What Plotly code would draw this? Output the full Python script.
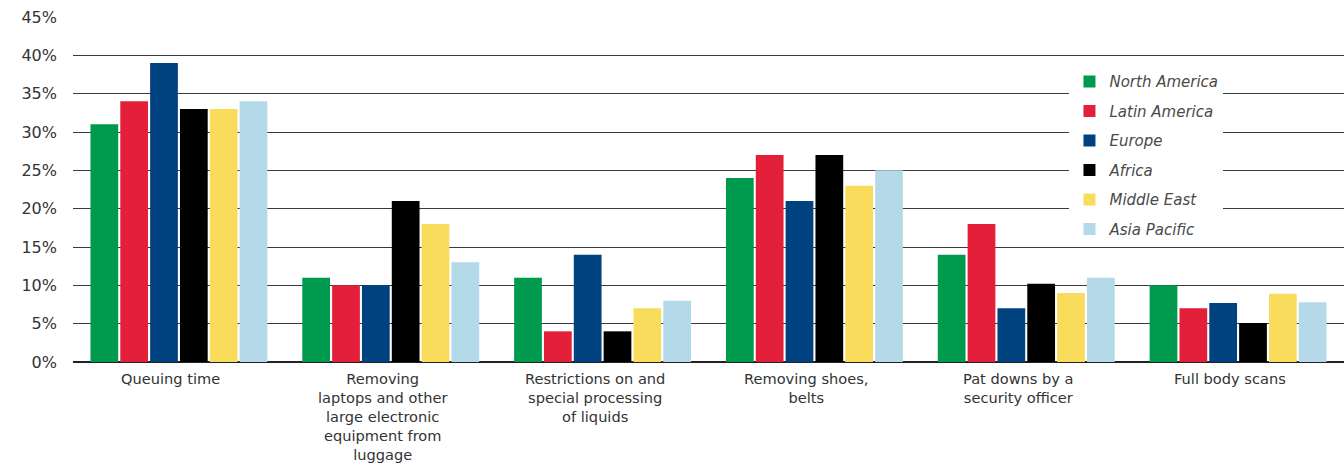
import plotly.graph_objects as go

categories = [
    "Queuing time",
    "Removing<br>laptops and other<br>large electronic<br>equipment from<br>luggage",
    "Restrictions on and<br>special processing<br>of liquids",
    "Removing shoes,<br>belts",
    "Pat downs by a<br>security officer",
    "Full body scans",
]

regions = ["North America", "Latin America", "Europe", "Africa", "Middle East", "Asia Pacific"]
colors = ["#009A4E", "#E31F3A", "#00427F", "#000000", "#F9DC5C", "#B4DAEA"]

north_america = [31, 11, 11, 24, 14, 10]
latin_america = [34, 10, 4, 27, 18, 7]
europe = [39, 10, 14, 21, 7, 7.7]
africa = [33, 21, 4, 27, 10.2, 5.1]
middle_east = [33, 18, 7, 23, 9, 8.9]
asia_pacific = [34, 13, 8, 25, 11, 7.8]

series = [north_america, latin_america, europe, africa, middle_east, asia_pacific]

y_ticks = [0, 5, 10, 15, 20, 25, 30, 35, 40, 45]
y_tick_labels = [f"{v}%" for v in y_ticks]

fig = go.Figure()
for name, color, vals in zip(regions, colors, series):
    fig.add_trace(go.Bar(
        name=name,
        legendgroup=name,
        x=categories,
        y=vals,
        marker=dict(color=color, line=dict(width=0)),
    ))

font_family = "'DejaVu Sans', sans-serif"
text_color = "#333333"

# category labels sit just under the baseline, nudged slightly left of each group
for cat in categories:
    fig.add_annotation(
        x=cat, y=0, xref="x", yref="y",
        text=cat, showarrow=False,
        xanchor="center", yanchor="top", align="center",
        xshift=-8, yshift=-6,
        font=dict(family=font_family, size=14.6, color=text_color),
    )

fig.update_layout(
    width=1344,
    height=463,
    margin=dict(l=73, r=0, t=17, b=101),
    paper_bgcolor="white",
    plot_bgcolor="white",
    barmode="group",
    bargap=0.155,
    bargroupgap=0.07,
    font=dict(family=font_family, size=15, color=text_color),
    showlegend=True,
    legend=dict(
        x=0.784,
        y=0.86,
        xanchor="left",
        yanchor="top",
        bgcolor="white",
        font=dict(size=15, style="italic", color="#4a4a4a"),
        tracegroupgap=7,
        itemwidth=30,
    ),
    xaxis=dict(
        showgrid=False,
        showline=False,
        ticks="",
        showticklabels=False,
        automargin=False,
    ),
    yaxis=dict(
        range=[0, 45],
        tickvals=y_ticks,
        ticktext=y_tick_labels,
        showgrid=True,
        gridcolor="#3a3a3a",
        gridwidth=1,
        zeroline=True,
        zerolinecolor="#222222",
        zerolinewidth=1.5,
        ticks="",
        automargin=False,
        ticklabelstandoff=15,
        tickfont=dict(size=16, color=text_color),
    ),
)

fig.write_html("out.html")
